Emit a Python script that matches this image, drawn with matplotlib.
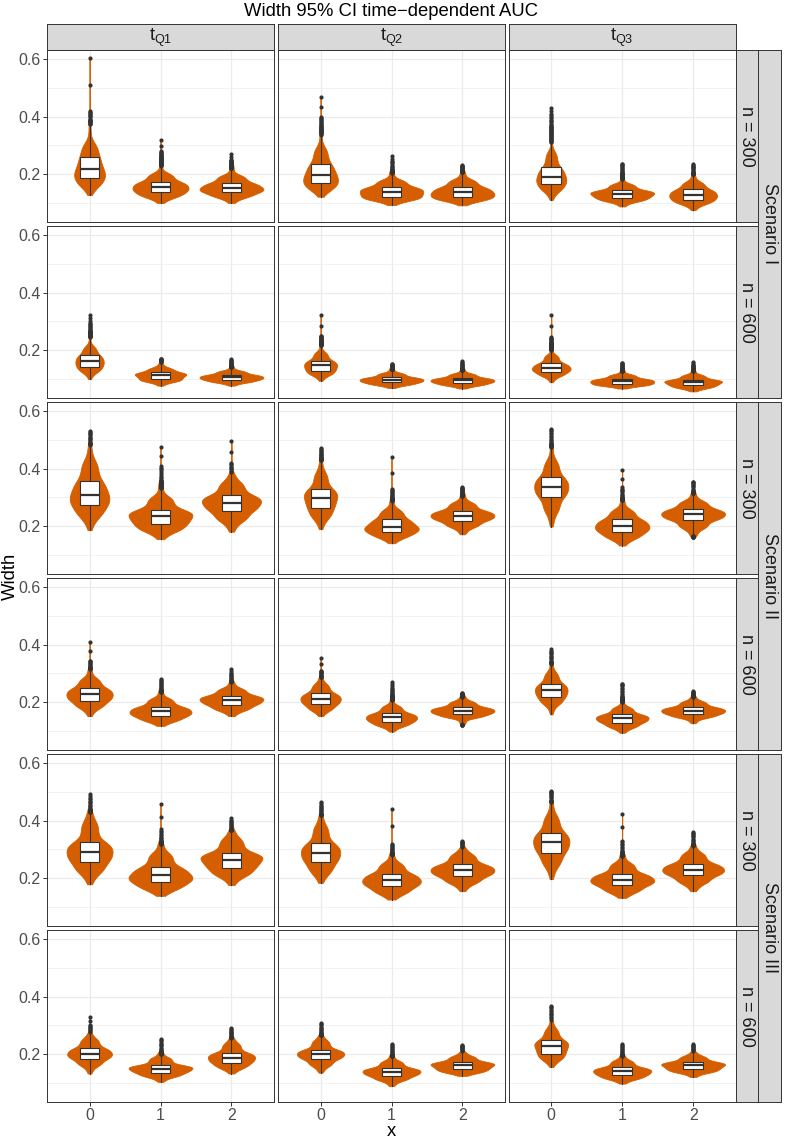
import numpy as np
import matplotlib
matplotlib.use("Agg")
import matplotlib.pyplot as plt
from matplotlib import cbook

plt.rcParams['font.family'] = ['Liberation Sans', 'DejaVu Sans']
plt.rcParams['mathtext.fontset'] = 'custom'
plt.rcParams['mathtext.rm'] = 'Liberation Sans'
plt.rcParams['mathtext.it'] = 'Liberation Sans:italic'
plt.rcParams['mathtext.default'] = 'rm'

# facet labels
time_labels = [r'$t_{Q1}$', r'$t_{Q2}$', r'$t_{Q3}$']
size_labels = ['n = 300', 'n = 600']
scenario_labels = ['Scenario I', 'Scenario II', 'Scenario III']
x_levels = [0, 1, 2]

# quantiles (probability levels below)
probs = [0.0, 0.05, 0.25, 0.5, 0.75, 0.95, 0.99, 0.998, 1.0]

# one row per (scenario, n); 9 values per row:
# tQ1 x=0,1,2 | tQ2 x=0,1,2 | tQ3 x=0,1,2
q_min = [
    [.128, .100, .100, .122, .093, .092, .111, .088, .075],
    [.100, .077, .077, .094, .069, .067, .089, .067, .057],
    [.187, .155, .181, .190, .141, .172, .199, .133, .162],
    [.152, .118, .152, .152, .098, .121, .158, .094, .127],
    [.179, .139, .176, .184, .126, .155, .197, .132, .155],
    [.133, .104, .133, .136, .089, .125, .156, .098, .121],
]
q05 = [
    [.157, .118, .118, .146, .108, .107, .140, .104, .095],
    [.122, .089, .087, .112, .078, .076, .108, .075, .067],
    [.230, .180, .215, .225, .160, .195, .245, .155, .190],
    [.178, .133, .170, .170, .115, .145, .190, .110, .145],
    [.215, .160, .205, .215, .145, .180, .240, .150, .180],
    [.158, .120, .150, .157, .107, .135, .178, .112, .135],
]
q25 = [
    [.186, .137, .137, .170, .122, .121, .166, .118, .112],
    [.142, .100, .097, .129, .088, .086, .125, .083, .078],
    [.273, .207, .253, .263, .181, .220, .301, .180, .222],
    [.205, .152, .191, .193, .132, .159, .217, .129, .159],
    [.257, .187, .236, .256, .172, .208, .289, .176, .210],
    [.184, .136, .170, .183, .125, .148, .202, .127, .148],
]
q50 = [
    [.217, .155, .152, .199, .139, .137, .192, .132, .129],
    [.162, .113, .106, .147, .097, .095, .139, .092, .089],
    [.310, .234, .282, .299, .199, .237, .336, .201, .241],
    [.227, .168, .208, .212, .147, .171, .241, .144, .171],
    [.292, .210, .265, .289, .193, .228, .325, .195, .230],
    [.202, .150, .188, .200, .139, .162, .228, .141, .162],
]
q75 = [
    [.261, .174, .170, .237, .155, .155, .224, .144, .147],
    [.183, .123, .115, .164, .106, .104, .155, .101, .098],
    [.357, .257, .307, .329, .224, .254, .370, .224, .259],
    [.249, .185, .223, .231, .162, .183, .264, .158, .183],
    [.326, .239, .288, .321, .216, .248, .359, .216, .251],
    [.221, .162, .205, .216, .152, .173, .249, .154, .173],
]
q95 = [
    [.310, .205, .198, .295, .182, .183, .280, .168, .175],
    [.215, .140, .130, .195, .122, .120, .185, .117, .116],
    [.430, .305, .355, .390, .260, .285, .430, .260, .290],
    [.285, .215, .250, .265, .190, .205, .305, .185, .205],
    [.400, .290, .340, .385, .255, .285, .420, .255, .290],
    [.255, .190, .240, .250, .178, .195, .290, .180, .195],
]
q99 = [
    [.390, .260, .235, .370, .215, .212, .370, .205, .205],
    [.270, .155, .148, .235, .138, .136, .225, .135, .135],
    [.490, .360, .385, .440, .300, .315, .490, .300, .320],
    [.320, .245, .275, .290, .225, .222, .340, .220, .222],
    [.440, .330, .370, .425, .290, .305, .470, .290, .320],
    [.275, .210, .260, .270, .200, .210, .320, .200, .210],
]
q998 = [
    [.420, .280, .250, .400, .245, .228, .410, .232, .230],
    [.300, .168, .163, .250, .150, .155, .245, .152, .150],
    [.525, .410, .420, .465, .330, .333, .530, .335, .350],
    [.345, .275, .300, .310, .255, .230, .375, .260, .235],
    [.480, .370, .400, .455, .320, .325, .500, .330, .355],
    [.300, .245, .285, .300, .230, .228, .360, .230, .230],
]
q_max = [
    [.603, .318, .271, .469, .263, .231, .431, .237, .234],
    [.324, .171, .168, .321, .152, .162, .321, .156, .159],
    [.532, .477, .498, .471, .440, .336, .537, .396, .355],
    [.408, .282, .316, .353, .272, .231, .384, .264, .239],
    [.494, .457, .408, .466, .442, .329, .503, .425, .361],
    [.328, .254, .292, .307, .234, .231, .368, .234, .235],
]

FILL = '#D55E00'
DARK = '#333333'
W, H = 785, 1143


def sample_from_quantiles(qs, n=1000):
    # rebuild an ordered sample that has the read quantiles
    return np.interp(np.linspace(0, 1, n), probs, qs)


def density(sample, grid, adjust=1.4):
    # gaussian kde, bw.nrd0 like R
    sd = sample.std(ddof=1)
    iqr = np.percentile(sample, 75) - np.percentile(sample, 25)
    bw = adjust * 0.9 * min(sd, iqr / 1.34) * len(sample) ** -0.2
    z = (grid[:, None] - sample[None, :]) / bw
    return np.exp(-0.5 * z ** 2).sum(axis=1) / (len(sample) * bw * np.sqrt(2 * np.pi))


fig = plt.figure(figsize=(W / 100, H / 100), dpi=100)


def px_axes(x0, y0, w, h):
    return fig.add_axes([x0 / W, 1 - (y0 + h) / H, w / W, h / H])


def strip(ax):
    ax.set_facecolor('#D9D9D9')
    ax.set_xticks([])
    ax.set_yticks([])
    for s in ax.spines.values():
        s.set_color(DARK)
        s.set_linewidth(0.7)


col_left = [47, 278, 508.7]
pw, ph = 227, 172
row_top = [50 + 176 * r for r in range(6)]

for r in range(6):
    for c in range(3):
        ax = px_axes(col_left[c], row_top[r], pw, ph)
        samples, grids, dens = [], [], []
        for i in range(3):
            k = 3 * c + i
            qs = [q_min[r][k], q05[r][k], q25[r][k], q50[r][k], q75[r][k],
                  q95[r][k], q99[r][k], q998[r][k], q_max[r][k]]
            s = sample_from_quantiles(qs)
            g = np.linspace(s.min(), s.max(), 512)
            samples.append(s)
            grids.append(g)
            dens.append(density(s, g))
        dmax = max(d.max() for d in dens)
        for i, x in enumerate(x_levels):
            hw = 0.45 * dens[i] / dmax
            ax.fill_betweenx(grids[i], x - hw, x + hw, facecolor=FILL,
                             edgecolor=FILL, linewidth=0.6, zorder=2)
            stats = cbook.boxplot_stats(samples[i], whis=1.5)
            ax.bxp(stats, positions=[x], widths=0.28, patch_artist=True,
                   showcaps=False, manage_ticks=False, zorder=3,
                   boxprops=dict(facecolor='white', edgecolor=DARK, linewidth=0.8),
                   whiskerprops=dict(color=DARK, linewidth=0.8),
                   medianprops=dict(color=DARK, linewidth=1.6),
                   flierprops=dict(marker='o', markersize=3,
                                   markerfacecolor=DARK, markeredgecolor='none'))

        ax.set_xlim(-0.6, 2.6)
        ax.set_ylim(0.034, 0.632)
        ax.set_xticks(x_levels)
        ax.set_yticks([0.2, 0.4, 0.6])
        ax.set_yticks([0.1, 0.3, 0.5], minor=True)
        ax.set_xticklabels([str(x) for x in x_levels])
        ax.set_yticklabels(['0.2', '0.4', '0.6'])
        ax.grid(which='major', color='#EBEBEB', linewidth=0.9)
        ax.grid(which='minor', axis='y', color='#EBEBEB', linewidth=0.45)
        ax.set_axisbelow(True)
        ax.tick_params(which='minor', length=0)
        ax.tick_params(which='major', length=3, width=0.7, color=DARK,
                       labelcolor='#4D4D4D', labelsize=11.5, pad=1.5)
        if c > 0:
            ax.tick_params(axis='y', left=False, labelleft=False)
        if r < 5:
            ax.tick_params(axis='x', bottom=False, labelbottom=False)
        for s in ax.spines.values():
            s.set_color(DARK)
            s.set_linewidth(0.7)

        if r == 0:
            st = px_axes(col_left[c], 24, pw, 26)
            strip(st)
            st.text(0.5, 0.45, time_labels[c], ha='center', va='center',
                    fontsize=13, color='#1A1A1A', transform=st.transAxes)

    sn = px_axes(735.7, row_top[r], 22.3, ph)
    strip(sn)
    sn.text(0.5, 0.5, size_labels[r % 2], rotation=-90, ha='center', va='center',
            fontsize=13, color='#1A1A1A', transform=sn.transAxes)

for k in range(3):
    sc = px_axes(758, row_top[2 * k], 23, 2 * ph + 4)
    strip(sc)
    sc.text(0.5, 0.5, scenario_labels[k], rotation=-90, ha='center', va='center',
            fontsize=13, color='#1A1A1A', transform=sc.transAxes)

fig.text(391 / W, 1 - 11 / H, 'Width 95% CI time\u2212dependent AUC',
         ha='center', va='center', fontsize=13.3)
fig.text(10 / W, 1 - 576 / H, 'Width', rotation=90, ha='center', va='center',
         fontsize=13.3)
fig.text(391 / W, 1 - 1131 / H, 'x', ha='center', va='center', fontsize=13.3)

fig.savefig('out.png', dpi=100)
